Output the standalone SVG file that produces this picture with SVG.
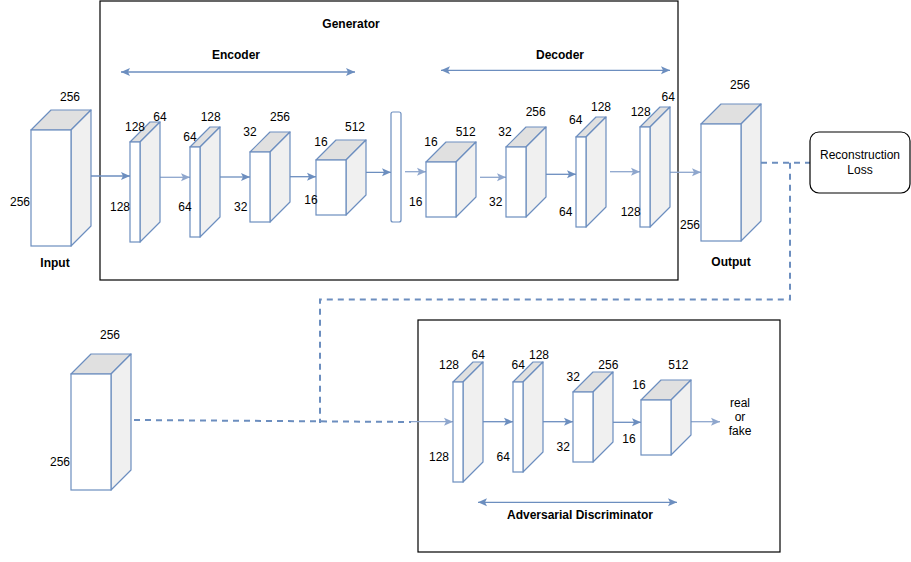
<svg xmlns="http://www.w3.org/2000/svg" width="911" height="562" viewBox="0 0 911 562">
<style>
  text { font-family: "Liberation Sans", Arial, sans-serif; font-size: 12px; fill: #000; text-anchor: middle; }
  .b { font-weight: bold; }
  .front { fill: #ffffff; stroke: #6c8ebf; stroke-width: 1.2; }
  .top { fill: #e0e0e0; stroke: #6c8ebf; stroke-width: 1.2; stroke-linejoin: round; }
  .side { fill: #f0f0f0; stroke: #6c8ebf; stroke-width: 1.2; stroke-linejoin: round; }
  .frame { fill: none; stroke: #000; stroke-width: 1.2; }
  .edge { fill: none; stroke: #6c8ebf; stroke-width: 1.3; }
  .light { stroke: #8ea6cd; }
  .dash { fill: none; stroke: #6c8ebf; stroke-width: 2; stroke-dasharray: 6 5; }
</style>
<defs>
  <marker id="ah" markerUnits="userSpaceOnUse" markerWidth="10" markerHeight="9" refX="9" refY="4.5" orient="auto">
    <path d="M0,0.5 L9,4.5 L0,8.5 L2,4.5 Z" fill="#6c8ebf"/>
  </marker>
  <marker id="ahl" markerUnits="userSpaceOnUse" markerWidth="10" markerHeight="9" refX="9" refY="4.5" orient="auto">
    <path d="M0,0.5 L9,4.5 L0,8.5 L2,4.5 Z" fill="#8ea6cd"/>
  </marker>
  <marker id="as" markerUnits="userSpaceOnUse" markerWidth="10" markerHeight="9" refX="0" refY="4.5" orient="auto">
    <path d="M9,0.5 L0,4.5 L9,8.5 L7,4.5 Z" fill="#6c8ebf"/>
  </marker>
</defs>

<!-- frames -->
<g id="generator-frame">
  <rect class="frame" x="100" y="1" width="578" height="279"/>
  <text class="b" x="351" y="27.5">Generator</text>
  <text class="b" x="236" y="58.5">Encoder</text>
  <text class="b" x="560" y="58.5">Decoder</text>
</g>
<g id="discriminator-frame">
  <rect class="frame" x="418" y="320" width="362" height="232"/>
  <text class="b" x="580" y="518.5">Adversarial Discriminator</text>
</g>

<!-- connectors -->
<g id="connectors">
  <line class="edge" x1="121" y1="72" x2="355" y2="72" marker-start="url(#as)" marker-end="url(#ah)"/>
  <line class="edge" x1="441" y1="70.3" x2="670" y2="70.3" marker-start="url(#as)" marker-end="url(#ah)"/>
  <line class="edge" x1="478" y1="502.3" x2="677" y2="502.3" marker-start="url(#as)" marker-end="url(#ah)"/>

  <line class="edge" x1="91" y1="176" x2="130" y2="176" marker-end="url(#ah)"/>
  <line class="edge light" x1="160" y1="177.3" x2="190" y2="177.3" marker-end="url(#ahl)"/>
  <line class="edge" x1="220" y1="177" x2="250" y2="177" marker-end="url(#ah)"/>
  <line class="edge" x1="290" y1="176.7" x2="316" y2="176.7" marker-end="url(#ah)"/>
  <line class="edge" x1="346" y1="172.3" x2="391" y2="172.3" marker-end="url(#ah)"/>
  <line class="edge light" x1="405" y1="171.7" x2="426" y2="171.7" marker-end="url(#ahl)"/>
  <line class="edge light" x1="480" y1="177.3" x2="506" y2="177.3" marker-end="url(#ahl)"/>
  <line class="edge" x1="546" y1="174.3" x2="576" y2="174.3" marker-end="url(#ah)"/>
  <line class="edge light" x1="610" y1="171.7" x2="640" y2="171.7" marker-end="url(#ahl)"/>
  <line class="edge light" x1="670" y1="172.3" x2="701" y2="172.3" marker-end="url(#ahl)"/>

  <line class="dash" x1="761" y1="162.7" x2="810" y2="162.7"/>
  <polyline class="dash" points="790,162.7 790,299.5 320,299.5 320,423"/>
  <line class="dash" x1="134" y1="420" x2="411" y2="422"/>
  <line class="edge light" x1="411" y1="421.7" x2="453" y2="421.7" marker-end="url(#ahl)"/>

  <line class="edge" x1="483" y1="421.7" x2="513" y2="421.7" marker-end="url(#ah)"/>
  <line class="edge" x1="543" y1="421.7" x2="573" y2="421.7" marker-end="url(#ah)"/>
  <line class="edge" x1="613" y1="422.3" x2="641" y2="422.3" marker-end="url(#ah)"/>
  <line class="edge light" x1="691" y1="421.7" x2="720" y2="421.7" marker-end="url(#ahl)"/>
</g>

<!-- Input -->
<g id="input">
  <polygon class="top" points="31,130 51,110 91,110 71,130"/>
  <polygon class="side" points="71,130 91,110 91,226 71,246"/>
  <rect class="front" x="31" y="130" width="40" height="116"/>
  <text x="70" y="101.3">256</text>
  <text x="20" y="206">256</text>
  <text class="b" x="55" y="267.3">Input</text>
</g>

<!-- Encoder -->
<g id="enc1">
  <polygon class="top" points="130,142 150,122 160,122 140,142"/>
  <polygon class="side" points="140,142 160,122 160,222 140,242"/>
  <rect class="front" x="130" y="142" width="10" height="100"/>
  <text x="135" y="131">128</text>
  <text x="160" y="121">64</text>
  <text x="120" y="211">128</text>
</g>
<g id="enc2">
  <polygon class="top" points="190,147 210,127 220,127 200,147"/>
  <polygon class="side" points="200,147 220,127 220,217 200,237"/>
  <rect class="front" x="190" y="147" width="10" height="90"/>
  <text x="190" y="141">64</text>
  <text x="210.7" y="121">128</text>
  <text x="185" y="211">64</text>
</g>
<g id="enc3">
  <polygon class="top" points="250,152 270,132 290,132 270,152"/>
  <polygon class="side" points="270,152 290,132 290,202 270,222"/>
  <rect class="front" x="250" y="152" width="20" height="70"/>
  <text x="250" y="136">32</text>
  <text x="280" y="121">256</text>
  <text x="240.7" y="211">32</text>
</g>
<g id="enc4">
  <polygon class="top" points="316,160 336,140 366,140 346,160"/>
  <polygon class="side" points="346,160 366,140 366,195 346,215"/>
  <rect class="front" x="316" y="160" width="30" height="55"/>
  <text x="321" y="146">16</text>
  <text x="355" y="131">512</text>
  <text x="311" y="203.6">16</text>
</g>

<!-- Bottleneck -->
<g id="bottleneck">
  <rect class="front" x="391" y="112" width="10" height="110" rx="2"/>
</g>

<!-- Decoder -->
<g id="dec1">
  <polygon class="top" points="426,162 446,142 476,142 456,162"/>
  <polygon class="side" points="456,162 476,142 476,197 456,217"/>
  <rect class="front" x="426" y="162" width="30" height="55"/>
  <text x="431" y="146">16</text>
  <text x="465.7" y="136">512</text>
  <text x="415.7" y="206">16</text>
</g>
<g id="dec2">
  <polygon class="top" points="506,147 526,127 546,127 526,147"/>
  <polygon class="side" points="526,147 546,127 546,197 526,217"/>
  <rect class="front" x="506" y="147" width="20" height="70"/>
  <text x="505" y="136">32</text>
  <text x="535.7" y="116">256</text>
  <text x="495.7" y="206">32</text>
</g>
<g id="dec3">
  <polygon class="top" points="576,137 596,117 606,117 586,137"/>
  <polygon class="side" points="586,137 606,117 606,207 586,227"/>
  <rect class="front" x="576" y="137" width="10" height="90"/>
  <text x="575.7" y="123.6">64</text>
  <text x="601" y="111">128</text>
  <text x="565.7" y="216">64</text>
</g>
<g id="dec4">
  <polygon class="top" points="640,127 660,107 670,107 650,127"/>
  <polygon class="side" points="650,127 670,107 670,207 650,227"/>
  <rect class="front" x="640" y="127" width="10" height="100"/>
  <text x="640.7" y="116">128</text>
  <text x="668.3" y="101">64</text>
  <text x="630.7" y="216">128</text>
</g>

<!-- Output -->
<g id="output">
  <polygon class="top" points="701,124 721,104 761,104 741,124"/>
  <polygon class="side" points="741,124 761,104 761,221 741,241"/>
  <rect class="front" x="701" y="124" width="40" height="117"/>
  <text x="740" y="88.6">256</text>
  <text x="690" y="229.3">256</text>
  <text class="b" x="731" y="266">Output</text>
</g>

<!-- Reconstruction Loss -->
<g id="reconstruction-loss">
  <rect x="810" y="132" width="100" height="61" rx="9" fill="#fff" stroke="#000" stroke-width="1.2"/>
  <text x="860" y="159.3">Reconstruction</text>
  <text x="860" y="173.6">Loss</text>
</g>

<!-- Real image -->
<g id="real-image">
  <polygon class="top" points="71,374 91,354 131,354 111,374"/>
  <polygon class="side" points="111,374 131,354 131,470 111,490"/>
  <rect class="front" x="71" y="374" width="40" height="116"/>
  <text x="110" y="338.6">256</text>
  <text x="60" y="466">256</text>
</g>

<!-- Discriminator -->
<g id="d1">
  <polygon class="top" points="453,382 473,362 483,362 463,382"/>
  <polygon class="side" points="463,382 483,362 483,462 463,482"/>
  <rect class="front" x="453" y="382" width="10" height="100"/>
  <text x="449" y="368.6">128</text>
  <text x="478.3" y="358.6">64</text>
  <text x="439" y="461">128</text>
</g>
<g id="d2">
  <polygon class="top" points="513,382 533,362 543,362 523,382"/>
  <polygon class="side" points="523,382 543,362 543,452 523,472"/>
  <rect class="front" x="513" y="382" width="10" height="90"/>
  <text x="518.3" y="368.6">64</text>
  <text x="539" y="358.6">128</text>
  <text x="503.3" y="461">64</text>
</g>
<g id="d3">
  <polygon class="top" points="573,392 593,372 613,372 593,392"/>
  <polygon class="side" points="593,392 613,372 613,442 593,462"/>
  <rect class="front" x="573" y="392" width="20" height="70"/>
  <text x="573.3" y="381">32</text>
  <text x="608.3" y="368.6">256</text>
  <text x="563.3" y="451">32</text>
</g>
<g id="d4">
  <polygon class="top" points="641,400 661,380 691,380 671,400"/>
  <polygon class="side" points="671,400 691,380 691,435 671,455"/>
  <rect class="front" x="641" y="400" width="30" height="55"/>
  <text x="639" y="388.6">16</text>
  <text x="678.3" y="368.6">512</text>
  <text x="629" y="443.3">16</text>
</g>
<g id="real-or-fake">
  <text x="740" y="406.5">real</text>
  <text x="740" y="420.5">or</text>
  <text x="740" y="435">fake</text>
</g>
</svg>
